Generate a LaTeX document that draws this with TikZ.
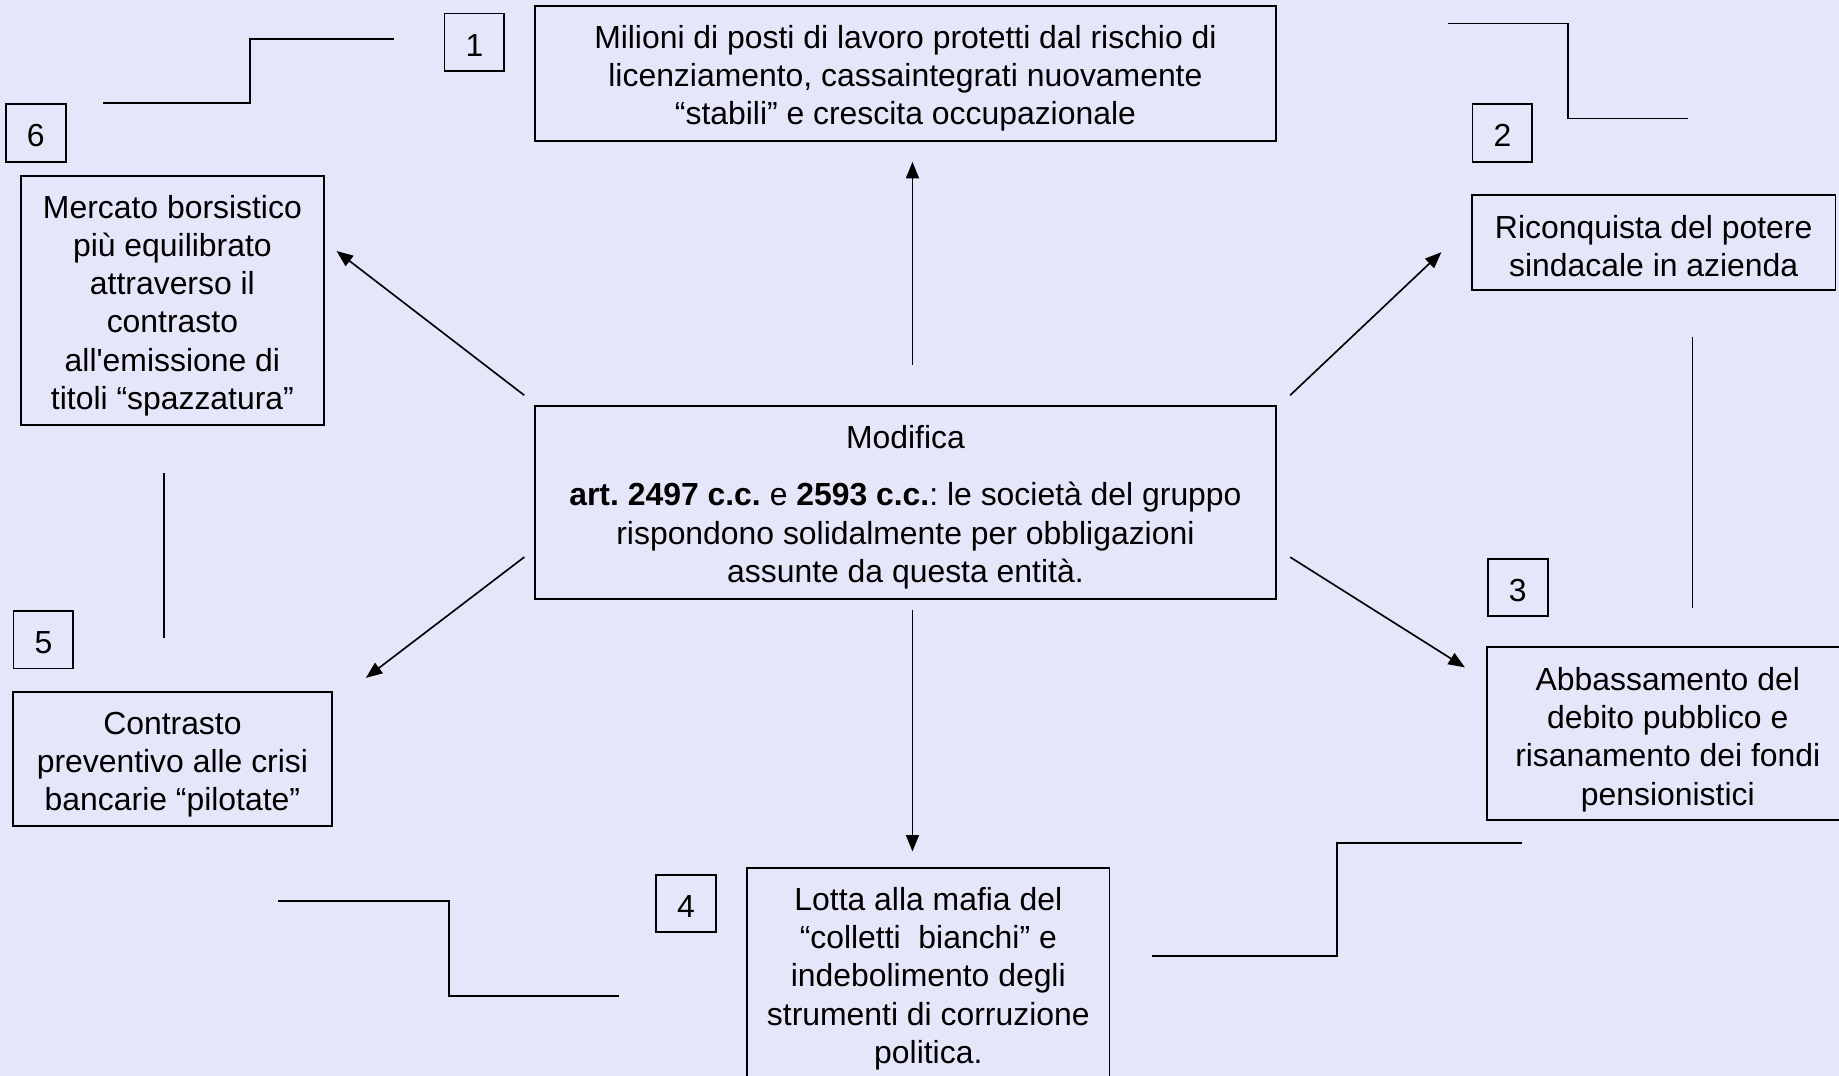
\documentclass[tikz,border=0pt]{standalone}
\usepackage{fontspec}
\setmainfont{Liberation Sans}
\usetikzlibrary{arrows.meta}
\definecolor{bgcol}{HTML}{E6E6FA}

\begin{document}
\frenchspacing
\begin{tikzpicture}[x=0.5pt,y=-0.5pt,
  txt/.style={font=\fontsize{13.6}{16.3}\selectfont},
  frame/.style={draw, line width=0.8pt, inner sep=0pt},
  words/.style={txt, align=center, inner sep=0pt},
  num/.style={txt, draw, line width=0.8pt, minimum width=25.5pt, minimum height=24.5pt,
    inner sep=0pt, text height=11.8pt, text depth=0pt},
  link/.style={line width=0.7pt},
  arr/.style={line width=0.7pt, -{Triangle[length=7pt,width=5.5pt]}}]

% canvas
\fill[bgcol] (0,0) rectangle (1568,917);
\useasboundingbox (0,0) rectangle (1568,917);
\clip (0,0) rectangle (1568,917);

% central box
\node[frame, minimum width=316pt, minimum height=82.5pt] (core) at (772,428.5) {};
\node[words] (coreT) at ([yshift=-2pt]core.center)
  {Modifica\\[8pt]
   \textbf{art. 2497 c.c.} e \textbf{2593 c.c.}: le società del gruppo\\
   rispondono solidalmente per obbligazioni\\
   assunte da questa entità.};

% outcome boxes
\node[frame, minimum width=316pt, minimum height=57.5pt] (jobs) at (772,62.5) {};
\node[words] (jobsT) at ([yshift=-2pt]jobs.center)
  {Milioni di posti di lavoro protetti dal rischio di\\
   licenziamento, cassaintegrati nuovamente\\
   “stabili” e crescita occupazionale};

\node[frame, minimum width=155pt, minimum height=40.5pt] (union) at (1410,206.5) {};
\node[words] (unionT) at ([yshift=-1.5pt]union.center)
  {Riconquista del potere\\ sindacale in azienda};

\node[frame, minimum width=154pt, minimum height=73.5pt] (debt) at (1422,625.5) {};
\node[words] (debtT) at ([yshift=-2.5pt]debt.center)
  {Abbassamento del\\ debito pubblico e\\ risanamento dei fondi\\ pensionistici};

\node[frame, minimum width=154.5pt, minimum height=91.5pt] (mafia) at (791.5,831.5) {};
\node[words] (mafiaT) at ([yshift=-1.5pt]mafia.center)
  {Lotta alla mafia del\\ “colletti\ \ bianchi” e\\ indebolimento degli\\ strumenti di corruzione\\ politica.};

\node[frame, minimum width=136pt, minimum height=57pt] (banks) at (147,647) {};
\node[words] (banksT) at ([yshift=-2.5pt]banks.center)
  {Contrasto\\ preventivo alle crisi\\ bancarie “pilotate”};

\node[frame, minimum width=129pt, minimum height=106pt] (market) at (147,256) {};
\node[words] (marketT) at ([yshift=-2.2pt]market.center)
  {Mercato borsistico\\ più equilibrato\\ attraverso il\\ contrasto\\ all\textquotesingle emissione di\\ titoli “spazzatura”};

% number tags
\node[num] (n1) at (404.5,36) {1};
\node[num] (n2) at (1281,113.5) {2};
\node[num] (n3) at (1294,501) {3};
\node[num] (n4) at (585,770.5) {4};
\node[num] (n5) at (37,545.5) {5};
\node[num] (n6) at (30.5,113.5) {6};

% arrow end points
\coordinate (upS) at (778,311);   \coordinate (upE) at (778,138);
\coordinate (urS) at (1100,337);  \coordinate (urE) at (1229,215);
\coordinate (drS) at (1100,475);  \coordinate (drE) at (1249,569);
\coordinate (dnS) at (778,520);   \coordinate (dnE) at (778,726);
\coordinate (dlS) at (447,475);   \coordinate (dlE) at (312,578);
\coordinate (ulS) at (447,337);   \coordinate (ulE) at (287,214);

\draw[arr] (upS) -- (upE);
\draw[arr] (urS) -- (urE);
\draw[arr] (drS) -- (drE);
\draw[arr] (dnS) -- (dnE);
\draw[arr] (dlS) -- (dlE);
\draw[arr] (ulS) -- (ulE);

% stepped and straight guide lines around the ring
\coordinate (s1a) at (336,33);   \coordinate (s1b) at (88,88);
\draw[link] (s1a) -- (213,33) -- (213,88) -- (s1b);
\coordinate (s2a) at (1235,20);  \coordinate (s2b) at (1439,101);
\draw[link] (s2a) -- (1337,20) -- (1337,101) -- (s2b);
\coordinate (v3a) at (1443,287); \coordinate (v3b) at (1443,518);
\draw[link] (v3a) -- (v3b);
\coordinate (s4a) at (1298,719); \coordinate (s4b) at (982,815);
\draw[link] (s4a) -- (1140,719) -- (1140,815) -- (s4b);
\coordinate (s5a) at (528,849);  \coordinate (s5b) at (237,768);
\draw[link] (s5a) -- (383,849) -- (383,768) -- (s5b);
\coordinate (v6a) at (140,544);  \coordinate (v6b) at (140,403);
\draw[link] (v6a) -- (v6b);
\end{tikzpicture}
\end{document}
